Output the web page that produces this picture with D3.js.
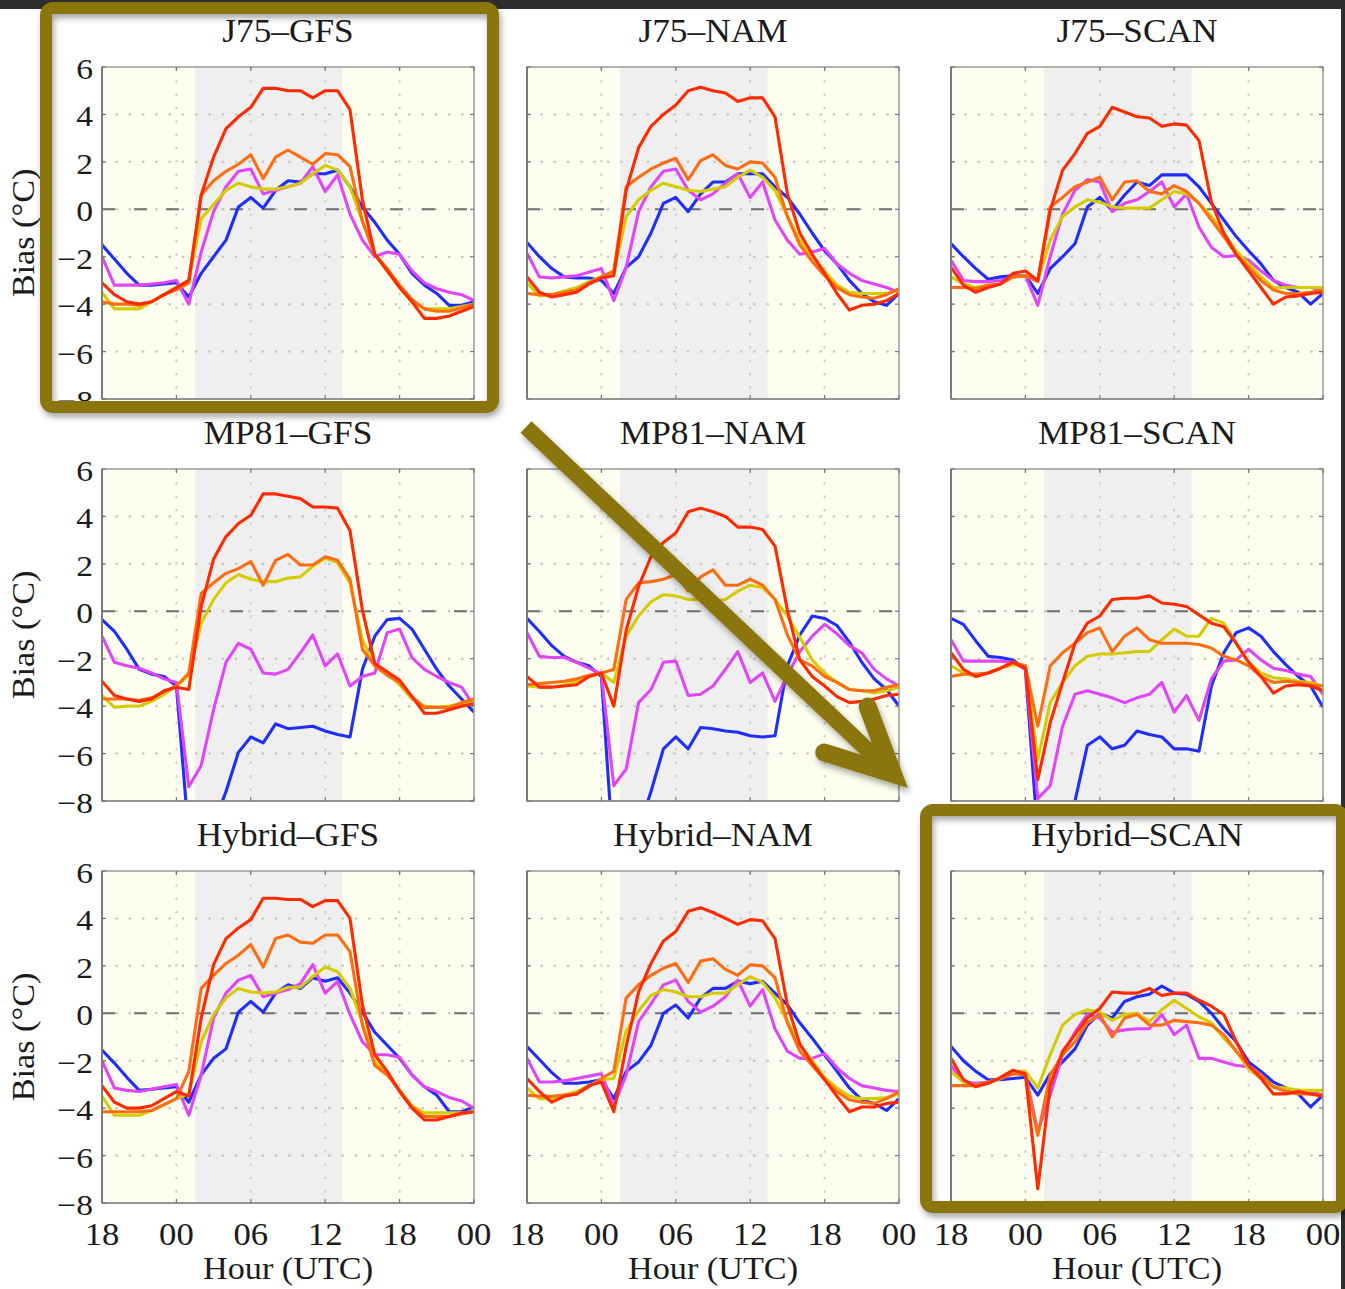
<!DOCTYPE html>
<html>
<head>
<meta charset="utf-8">
<script src="https://cdn.jsdelivr.net/npm/d3@7"></script>
<style>
  body { margin: 0; background: #ffffff; }
  svg { display: block; }
  text { font-family: "Liberation Serif", "Times New Roman", serif; fill: #1b1b1b; }
</style>
</head>
<body>
<svg id="fig" width="1345" height="1289"></svg>
<script>
// Hourly 2-m temperature bias (°C), from 18 UTC through 00 UTC the day after next (31 hours).
const hours = d3.range(0, 31);
const xTickHours = [0, 6, 12, 18, 24, 30];
const xTickLabels = ["18", "00", "06", "12", "18", "00"];
const yTickValues = [6, 4, 2, 0, -2, -4, -6, -8];
const yGridValues = [4, 2, 0, -2, -4, -6];
const xGridHours = [6, 12, 18, 24];
const daytimeHours = [7.5, 19.4];

// series order inside every panel: red, orange, yellow, magenta, blue
const seriesColors = ["#ff2a00", "#ff6d12", "#d4cc00", "#e045fa", "#1f2eff"];
const drawOrder = [4, 3, 2, 1, 0];

const panelTitles = [
  "J75–GFS", "J75–NAM", "J75–SCAN",
  "MP81–GFS", "MP81–NAM", "MP81–SCAN",
  "Hybrid–GFS", "Hybrid–NAM", "Hybrid–SCAN"
];

const J75_GFS = [
  [-3.1,-3.6,-3.9,-4.0,-3.9,-3.6,-3.3,-3.0,0.6,2.2,3.4,3.9,4.3,5.1,5.1,5.0,5.0,4.7,5.0,5.0,4.2,0.4,-1.9,-2.6,-3.3,-3.9,-4.6,-4.6,-4.5,-4.3,-4.1],
  [-3.9,-4.0,-4.0,-4.05,-3.9,-3.6,-3.4,-3.1,0.6,1.2,1.6,1.9,2.3,1.3,2.2,2.5,2.2,1.9,2.35,2.3,1.8,-0.5,-1.9,-2.5,-3.2,-3.8,-4.2,-4.3,-4.3,-4.15,-4.0],
  [-3.5,-4.2,-4.2,-4.2,-3.9,-3.6,-3.3,-3.0,-0.4,0.2,0.8,1.1,0.95,0.85,0.85,0.95,1.1,1.5,1.85,1.65,0.95,-0.5,-1.9,-2.6,-3.3,-3.9,-4.2,-4.2,-4.2,-4.1,-4.0],
  [-2.0,-3.2,-3.2,-3.2,-3.15,-3.1,-3.0,-4.0,-1.8,-0.1,0.95,1.6,1.7,0.65,0.8,0.95,1.1,1.8,0.75,1.45,-0.2,-1.3,-2.0,-1.8,-1.9,-2.6,-3.1,-3.35,-3.5,-3.6,-3.85],
  [-1.5,-2.1,-2.7,-3.2,-3.2,-3.15,-3.1,-3.7,-2.7,-2.0,-1.3,0.1,0.5,0.05,0.8,1.2,1.15,1.5,1.5,1.65,0.95,0.1,-0.55,-1.3,-1.9,-2.7,-3.2,-3.55,-4.05,-4.05,-3.9]
];
const J75_NAM = [
  [-2.85,-3.5,-3.7,-3.6,-3.5,-3.15,-2.9,-2.8,0.8,2.6,3.5,4.0,4.4,5.0,5.15,5.0,4.9,4.55,4.7,4.7,3.9,0.65,-1.0,-1.9,-2.7,-3.55,-4.25,-4.05,-4.0,-3.85,-3.55],
  [-3.55,-3.6,-3.6,-3.5,-3.4,-3.1,-2.85,-2.6,0.95,1.35,1.7,1.95,2.15,1.25,2.05,2.3,1.85,1.7,2.0,1.95,1.35,-0.3,-1.5,-2.2,-2.8,-3.3,-3.6,-3.7,-3.75,-3.6,-3.35],
  [-3.1,-3.65,-3.6,-3.45,-3.3,-3.05,-2.85,-2.7,-0.3,0.4,0.8,1.1,0.95,0.8,0.75,0.85,0.95,1.35,1.65,1.35,0.8,-0.3,-1.3,-2.0,-2.6,-3.2,-3.5,-3.55,-3.55,-3.55,-3.4],
  [-1.85,-2.85,-2.9,-2.85,-2.8,-2.65,-2.5,-3.85,-2.45,-0.1,0.95,1.6,1.7,0.8,0.4,0.65,1.1,1.5,0.5,1.15,-0.45,-1.3,-1.9,-1.8,-1.65,-2.3,-2.7,-3.0,-3.15,-3.3,-3.5],
  [-1.4,-2.0,-2.5,-2.85,-2.9,-2.9,-3.0,-3.55,-2.45,-2.0,-1.0,0.25,0.5,-0.1,0.65,1.15,1.15,1.5,1.5,1.5,0.95,0.5,-0.2,-1.0,-1.75,-2.3,-3.0,-3.55,-3.9,-4.05,-3.55]
];
const J75_SCAN = [
  [-2.45,-3.2,-3.5,-3.3,-3.15,-2.7,-2.6,-3.0,-0.05,1.65,2.35,3.2,3.5,4.3,4.1,3.9,3.85,3.5,3.6,3.55,2.9,0.3,-1.0,-1.9,-2.6,-3.3,-4.0,-3.7,-3.65,-3.55,-3.5],
  [-3.3,-3.3,-3.35,-3.2,-3.15,-2.85,-2.8,-3.05,0.1,0.5,0.95,1.15,1.35,0.4,1.15,1.2,0.75,0.65,1.0,0.75,0.25,-0.45,-1.15,-1.9,-2.45,-3.0,-3.4,-3.55,-3.55,-3.5,-3.4],
  [-2.85,-3.15,-3.3,-3.2,-3.15,-2.85,-2.8,-3.0,-1.3,-0.3,0.1,0.4,0.3,0.1,0.05,0.05,0.05,0.4,0.75,0.65,0.25,-0.3,-1.0,-1.75,-2.3,-2.85,-3.3,-3.3,-3.3,-3.3,-3.3],
  [-2.15,-3.0,-3.05,-3.05,-3.0,-2.85,-2.8,-4.05,-2.0,-0.2,0.8,1.25,1.15,-0.1,0.25,0.4,0.75,1.15,0.1,0.65,-0.75,-1.6,-2.0,-1.95,-2.15,-2.6,-3.0,-3.2,-3.3,-3.3,-3.4],
  [-1.45,-2.0,-2.5,-2.95,-2.85,-2.8,-2.8,-3.55,-2.5,-2.0,-1.45,0.1,0.5,-0.05,0.6,1.15,1.0,1.45,1.45,1.45,0.95,0.25,-0.45,-1.15,-1.75,-2.3,-3.0,-3.3,-3.5,-4.0,-3.55]
];
const MP81_GFS = [
  [-2.95,-3.55,-3.7,-3.8,-3.7,-3.35,-3.2,-3.3,0.2,2.2,3.15,3.7,4.05,4.95,4.95,4.85,4.75,4.4,4.4,4.35,3.4,0.05,-2.2,-2.55,-2.9,-3.6,-4.3,-4.3,-4.15,-4.0,-3.9],
  [-3.7,-3.7,-3.7,-3.75,-3.65,-3.4,-3.15,-2.6,0.75,1.2,1.6,1.8,2.1,1.1,2.15,2.4,1.95,1.95,2.3,2.15,1.35,-1.6,-2.3,-2.7,-3.0,-3.6,-4.05,-4.05,-4.05,-3.85,-3.7],
  [-3.55,-4.05,-4.0,-4.0,-3.8,-3.5,-3.15,-2.7,-0.5,0.5,1.2,1.55,1.35,1.25,1.25,1.4,1.45,1.9,2.25,2.05,1.2,-1.2,-2.3,-2.6,-3.1,-3.7,-4.0,-4.05,-4.0,-3.9,-3.85],
  [-1.05,-2.15,-2.3,-2.4,-2.6,-2.85,-3.0,-7.4,-6.5,-4.15,-2.15,-1.35,-1.6,-2.6,-2.65,-2.45,-1.75,-1.0,-2.3,-1.8,-3.15,-2.75,-2.6,-0.9,-0.75,-1.95,-2.45,-2.75,-3.0,-3.2,-4.0],
  [-0.35,-0.85,-1.6,-2.45,-2.65,-2.75,-3.15,-9.5,-10.0,-9.0,-7.6,-5.95,-5.3,-5.55,-4.75,-4.95,-4.9,-4.85,-5.05,-5.2,-5.3,-2.45,-1.05,-0.35,-0.3,-0.75,-1.6,-2.45,-3.15,-3.7,-4.25]
];
const MP81_NAM = [
  [-2.75,-3.2,-3.2,-3.15,-3.1,-2.75,-2.6,-4.0,-0.8,1.05,2.3,2.9,3.3,4.2,4.35,4.2,4.0,3.55,3.55,3.45,2.75,0.05,-2.05,-2.75,-3.15,-3.6,-3.85,-3.8,-3.7,-3.55,-3.5],
  [-3.1,-3.05,-3.0,-2.95,-2.85,-2.7,-2.6,-2.45,0.5,1.2,1.25,1.35,1.55,0.85,1.45,1.75,1.1,1.1,1.35,1.1,0.5,-1.0,-2.05,-2.3,-2.75,-3.0,-3.3,-3.35,-3.35,-3.2,-3.1],
  [-3.15,-3.2,-3.2,-3.1,-2.95,-2.75,-2.6,-3.0,-1.05,-0.2,0.4,0.7,0.65,0.5,0.5,0.4,0.5,0.85,1.1,1.0,0.5,-0.2,-1.1,-2.05,-2.6,-3.0,-3.3,-3.35,-3.45,-3.35,-3.2],
  [-0.9,-1.9,-1.95,-1.95,-2.15,-2.4,-2.65,-7.35,-6.65,-3.85,-3.3,-2.15,-2.1,-3.55,-3.5,-3.15,-2.45,-1.7,-3.0,-2.6,-3.8,-2.7,-1.7,-1.05,-0.55,-0.95,-1.45,-1.75,-2.45,-2.85,-3.15],
  [-0.3,-0.85,-1.45,-1.9,-2.15,-2.3,-2.75,-10.5,-10.5,-9.2,-7.6,-5.8,-5.3,-5.8,-4.9,-4.95,-5.05,-5.1,-5.25,-5.3,-5.25,-2.3,-1.0,-0.2,-0.3,-0.6,-1.3,-2.15,-2.85,-3.3,-4.0]
];
const MP81_SCAN = [
  [-1.75,-2.45,-2.75,-2.6,-2.4,-2.15,-2.4,-7.1,-4.7,-3.0,-1.35,-0.5,-0.2,0.5,0.55,0.55,0.65,0.35,0.3,0.2,-0.15,-0.5,-0.65,-1.35,-2.15,-2.75,-3.45,-3.15,-3.1,-3.15,-3.35],
  [-2.75,-2.65,-2.65,-2.6,-2.4,-2.15,-2.3,-4.85,-2.3,-1.75,-1.35,-0.9,-0.7,-1.7,-1.05,-0.7,-1.2,-1.35,-1.35,-1.35,-1.4,-1.55,-1.9,-2.05,-2.3,-2.75,-3.0,-2.95,-3.0,-3.1,-3.15],
  [-2.3,-2.6,-2.75,-2.6,-2.4,-2.25,-2.3,-6.25,-3.85,-3.0,-2.3,-1.9,-1.8,-1.8,-1.75,-1.7,-1.7,-1.2,-0.75,-1.05,-1.05,-0.3,-0.5,-1.35,-2.15,-2.6,-2.8,-2.85,-2.95,-3.0,-3.15],
  [-1.2,-2.1,-2.1,-2.1,-2.1,-2.15,-2.45,-7.9,-7.35,-4.85,-3.5,-3.35,-3.5,-3.65,-3.85,-3.65,-3.5,-3.0,-4.25,-3.55,-4.6,-2.85,-2.1,-2.05,-1.6,-2.05,-2.4,-2.5,-2.65,-2.75,-3.5],
  [-0.3,-0.55,-1.25,-1.9,-1.95,-2.05,-2.45,-9.5,-10.5,-10.0,-8.0,-5.65,-5.3,-5.8,-5.65,-5.05,-5.2,-5.3,-5.8,-5.8,-5.9,-3.15,-1.75,-0.9,-0.7,-1.05,-1.7,-2.25,-2.75,-3.15,-4.05]
];
const HYBRID_GFS = [
  [-3.05,-3.75,-4.0,-4.0,-3.9,-3.6,-3.3,-3.5,-0.2,2.05,3.15,3.6,3.95,4.85,4.85,4.8,4.8,4.5,4.75,4.75,4.0,0.35,-1.75,-2.45,-3.3,-4.0,-4.5,-4.5,-4.35,-4.2,-4.15],
  [-4.15,-4.15,-4.15,-4.15,-4.1,-3.85,-3.6,-2.45,1.05,1.6,2.1,2.45,2.9,1.95,3.15,3.3,3.0,2.95,3.3,3.3,2.6,-0.5,-2.2,-2.6,-3.25,-3.95,-4.35,-4.35,-4.35,-4.25,-4.15],
  [-3.5,-4.3,-4.3,-4.3,-4.1,-3.85,-3.6,-3.4,-1.2,-0.05,0.65,1.05,0.9,0.85,0.9,1.1,1.1,1.55,1.95,1.75,1.05,-0.4,-2.05,-2.5,-3.25,-3.9,-4.2,-4.2,-4.2,-4.2,-4.15],
  [-2.0,-3.15,-3.25,-3.3,-3.2,-3.1,-3.0,-4.3,-2.6,-0.2,0.85,1.4,1.6,0.7,0.85,1.0,1.25,2.05,0.85,1.35,-0.05,-1.2,-1.75,-1.75,-1.85,-2.6,-3.1,-3.3,-3.55,-3.7,-4.0],
  [-1.55,-2.1,-2.7,-3.25,-3.2,-3.15,-3.1,-3.75,-2.6,-1.9,-1.5,0.05,0.5,0.05,0.85,1.2,1.05,1.5,1.35,1.5,0.85,0.05,-0.8,-1.35,-1.9,-2.6,-3.1,-3.45,-4.15,-4.15,-3.95]
];
const HYBRID_NAM = [
  [-2.75,-3.3,-3.75,-3.5,-3.4,-3.05,-2.9,-4.15,-1.4,0.9,2.1,3.05,3.45,4.3,4.45,4.25,4.0,3.75,3.95,3.9,3.15,0.35,-1.3,-2.1,-2.8,-3.5,-4.15,-3.95,-3.95,-3.8,-3.75],
  [-3.45,-3.5,-3.5,-3.45,-3.4,-3.1,-2.75,-2.45,0.65,1.2,1.6,1.9,2.1,1.3,2.2,2.3,1.85,1.6,2.05,2.0,1.5,-0.4,-1.6,-2.2,-2.8,-3.3,-3.65,-3.75,-3.8,-3.6,-3.3],
  [-3.15,-3.6,-3.6,-3.45,-3.3,-3.05,-2.8,-2.75,-0.75,0.1,0.75,1.0,0.9,0.7,0.7,0.85,0.85,1.2,1.55,1.3,0.65,-0.35,-1.3,-2.0,-2.7,-3.15,-3.5,-3.6,-3.6,-3.55,-3.4],
  [-1.9,-2.9,-2.9,-2.85,-2.75,-2.65,-2.55,-3.9,-2.6,-0.35,0.4,1.2,1.4,0.5,0.05,0.3,0.7,1.4,0.3,1.0,-0.65,-1.6,-1.9,-1.9,-1.7,-2.3,-2.75,-3.05,-3.15,-3.25,-3.3],
  [-1.4,-1.95,-2.5,-2.95,-2.95,-2.9,-2.8,-3.6,-2.45,-2.05,-1.35,0.0,0.35,-0.2,0.65,1.05,1.05,1.35,1.25,1.35,0.85,0.35,-0.4,-1.05,-1.75,-2.45,-3.15,-3.65,-3.8,-4.1,-3.6]
];
const HYBRID_SCAN = [
  [-1.9,-2.8,-3.1,-2.95,-2.7,-2.4,-2.55,-7.4,-3.05,-1.6,-0.9,-0.2,0.2,0.9,0.85,0.85,1.05,0.75,0.85,0.85,0.55,0.3,-0.05,-1.2,-2.2,-2.75,-3.4,-3.4,-3.3,-3.4,-3.5],
  [-3.05,-3.05,-3.05,-2.9,-2.75,-2.55,-2.6,-5.15,-2.6,-1.75,-1.2,-0.4,-0.05,-1.0,-0.2,-0.05,-0.5,-0.5,-0.3,-0.35,-0.4,-0.5,-0.9,-1.6,-2.2,-2.6,-3.1,-3.3,-3.4,-3.4,-3.45],
  [-2.45,-2.9,-3.05,-2.95,-2.75,-2.45,-2.45,-3.15,-1.75,-0.5,-0.05,0.15,0.05,-0.3,-0.05,0.0,-0.35,0.15,0.55,0.2,-0.15,-0.4,-1.05,-1.6,-2.35,-2.75,-3.1,-3.15,-3.25,-3.25,-3.25],
  [-2.2,-2.9,-2.95,-2.9,-2.75,-2.55,-2.55,-5.0,-3.45,-1.75,-0.8,-0.05,-0.2,-0.8,-0.7,-0.65,-0.65,-0.05,-0.9,-0.5,-1.9,-1.9,-2.05,-2.2,-2.25,-2.6,-3.1,-3.25,-3.25,-3.3,-3.45],
  [-1.4,-2.0,-2.45,-2.8,-2.8,-2.75,-2.7,-3.45,-2.55,-2.05,-1.5,-0.5,0.0,-0.2,0.5,0.7,0.8,1.15,0.85,0.8,0.5,0.0,-0.65,-1.2,-2.05,-2.45,-2.9,-3.15,-3.4,-3.95,-3.45]
];

const panelData = [J75_GFS, J75_NAM, J75_SCAN, MP81_GFS, MP81_NAM, MP81_SCAN, HYBRID_GFS, HYBRID_NAM, HYBRID_SCAN];

// ---- layout ----
const colLeft = [102, 527, 951];
const rowTop = [67, 469, 871];
const plotW = 372, plotH = 332;
const olive = "#8b750a";

const svg = d3.select("#fig");
const defs = svg.append("defs");
const shadow = defs.append("filter").attr("id", "softShadow")
  .attr("x", "-10%").attr("y", "-10%").attr("width", "130%").attr("height", "130%");
shadow.append("feDropShadow").attr("dx", 2).attr("dy", 4).attr("stdDeviation", 3)
  .attr("flood-color", "#000").attr("flood-opacity", 0.35);

// window chrome: dark strip along the top and right edge
svg.append("rect").attr("x", 0).attr("y", 0).attr("width", 1345).attr("height", 9).attr("fill", "#2e2e2e");
svg.append("rect").attr("x", 1341).attr("y", 0).attr("width", 4).attr("height", 1289).attr("fill", "#2e2e2e");

const x = d3.scaleLinear().domain([0, 30]).range([0, plotW]);
const y = d3.scaleLinear().domain([-8, 6]).range([plotH, 0]);

function stretchedText(g, px, py, txt, size, sx, anchor) {
  return g.append("text")
    .attr("transform", `translate(${px},${py}) scale(${sx},1)`)
    .attr("font-size", size)
    .attr("text-anchor", anchor)
    .text(txt);
}

const fmtTick = v => (v < 0 ? "\u2212" + Math.abs(v) : String(v));

panelData.forEach((series, i) => {
  const row = Math.floor(i / 3), col = i % 3;
  const g = svg.append("g").attr("transform", `translate(${colLeft[col]},${rowTop[row]})`);

  defs.append("clipPath").attr("id", "clip" + i)
    .append("rect").attr("width", plotW).attr("height", plotH);

  // night / day shading
  g.append("rect").attr("width", plotW).attr("height", plotH).attr("fill", "#fefef0");
  g.append("rect")
    .attr("x", x(daytimeHours[0])).attr("width", x(daytimeHours[1]) - x(daytimeHours[0]))
    .attr("height", plotH).attr("fill", "#efefef");

  // dotted grid
  g.selectAll(".hgrid").data(yGridValues).join("line")
    .attr("x1", 0).attr("x2", plotW)
    .attr("y1", d => y(d)).attr("y2", d => y(d))
    .attr("stroke", "#c2c2ba").attr("stroke-width", 2).attr("stroke-dasharray", "2.5,10.8");
  g.selectAll(".vgrid").data(xGridHours).join("line")
    .attr("y1", 0).attr("y2", plotH)
    .attr("x1", d => x(d)).attr("x2", d => x(d))
    .attr("stroke", "#cfcfc8").attr("stroke-width", 2).attr("stroke-dasharray", "2.5,10.8");

  // zero-bias reference
  g.append("line").attr("x1", 0).attr("x2", plotW).attr("y1", y(0)).attr("y2", y(0))
    .attr("stroke", "#6e6e6e").attr("stroke-width", 2).attr("stroke-dasharray", "13,19");

  // bias curves
  const line = d3.line().x((d, k) => x(hours[k])).y(d => y(d));
  const lines = g.append("g").attr("clip-path", `url(#clip${i})`);
  drawOrder.forEach(s => {
    lines.append("path").datum(series[s])
      .attr("d", line)
      .attr("fill", "none")
      .attr("stroke", seriesColors[s])
      .attr("stroke-width", 3.1)
      .attr("stroke-linejoin", "round");
  });

  // axes frame with inward ticks
  g.append("rect").attr("width", plotW).attr("height", plotH)
    .attr("fill", "none").attr("stroke", "#9a9a96").attr("stroke-width", 1.5);
  g.append("line").attr("x1", 0).attr("x2", 0).attr("y1", 0).attr("y2", plotH)
    .attr("stroke", "#7c7c7c").attr("stroke-width", 2);
  g.append("line").attr("x1", 0).attr("x2", plotW).attr("y1", plotH).attr("y2", plotH)
    .attr("stroke", "#8a8a8a").attr("stroke-width", 1.5);
  xTickHours.forEach(h => {
    g.append("line").attr("x1", x(h)).attr("x2", x(h)).attr("y1", plotH).attr("y2", plotH - 4)
      .attr("stroke", "#777").attr("stroke-width", 1.2);
    g.append("line").attr("x1", x(h)).attr("x2", x(h)).attr("y1", 0).attr("y2", 4)
      .attr("stroke", "#777").attr("stroke-width", 1.2);
  });
  yTickValues.forEach(v => {
    g.append("line").attr("x1", 0).attr("x2", 4).attr("y1", y(v)).attr("y2", y(v))
      .attr("stroke", "#777").attr("stroke-width", 1.2);
    g.append("line").attr("x1", plotW).attr("x2", plotW - 4).attr("y1", y(v)).attr("y2", y(v))
      .attr("stroke", "#777").attr("stroke-width", 1.2);
  });

  // title
  stretchedText(g, plotW / 2, -25, panelTitles[i], 33, 1.07, "middle");

  // y axis labels on the left column
  if (col === 0) {
    yTickValues.forEach(v => {
      stretchedText(g, -9, y(v) + 12, fmtTick(v), 30, 1.12, "end");
    });
    const bias = g.append("text")
      .attr("transform", `translate(${34 - colLeft[0]},${plotH / 2}) rotate(-90) scale(1.07,1)`)
      .attr("font-size", 32).attr("text-anchor", "middle");
    bias.text("Bias (°C)");
  }

  // x axis labels on the bottom row
  if (row === 2) {
    xTickHours.forEach((h, k) => {
      stretchedText(g, x(h), plotH + 42, xTickLabels[k], 31, 1.12, "middle");
    });
    stretchedText(g, plotW / 2, plotH + 76, "Hour (UTC)", 32, 1.07, "middle");
  }
});

// highlight frames and arrow
const frames = [
  { x: 46, y: 8, w: 447, h: 399 },
  { x: 926, y: 810, w: 416, h: 397 }
];
svg.selectAll(".frame").data(frames).join("rect")
  .attr("x", d => d.x).attr("y", d => d.y).attr("width", d => d.w).attr("height", d => d.h)
  .attr("rx", 7).attr("fill", "none")
  .attr("stroke", olive).attr("stroke-width", 12)
  .attr("filter", "url(#softShadow)");

const arrow = svg.append("g").attr("filter", "url(#softShadow)");
const tail = [526, 427], tip = [893, 774];
const ang = Math.atan2(tip[1] - tail[1], tip[0] - tail[0]);
const back = ang + Math.PI;
const headLen = 72, spread = 26 * Math.PI / 180;
const arm1 = [tip[0] + headLen * Math.cos(back - spread), tip[1] + headLen * Math.sin(back - spread)];
const arm2 = [tip[0] + headLen * Math.cos(back + spread), tip[1] + headLen * Math.sin(back + spread)];
const shaftEnd = [tip[0] - 10 * Math.cos(ang), tip[1] - 10 * Math.sin(ang)];
arrow.append("line")
  .attr("x1", tail[0]).attr("y1", tail[1]).attr("x2", shaftEnd[0]).attr("y2", shaftEnd[1])
  .attr("stroke", olive).attr("stroke-width", 16).attr("stroke-linecap", "butt");
arrow.append("path")
  .attr("d", d3.line()([arm1, tip, arm2]))
  .attr("fill", "none").attr("stroke", olive).attr("stroke-width", 18)
  .attr("stroke-linecap", "round").attr("stroke-linejoin", "miter").attr("stroke-miterlimit", 10);
</script>
</body>
</html>
